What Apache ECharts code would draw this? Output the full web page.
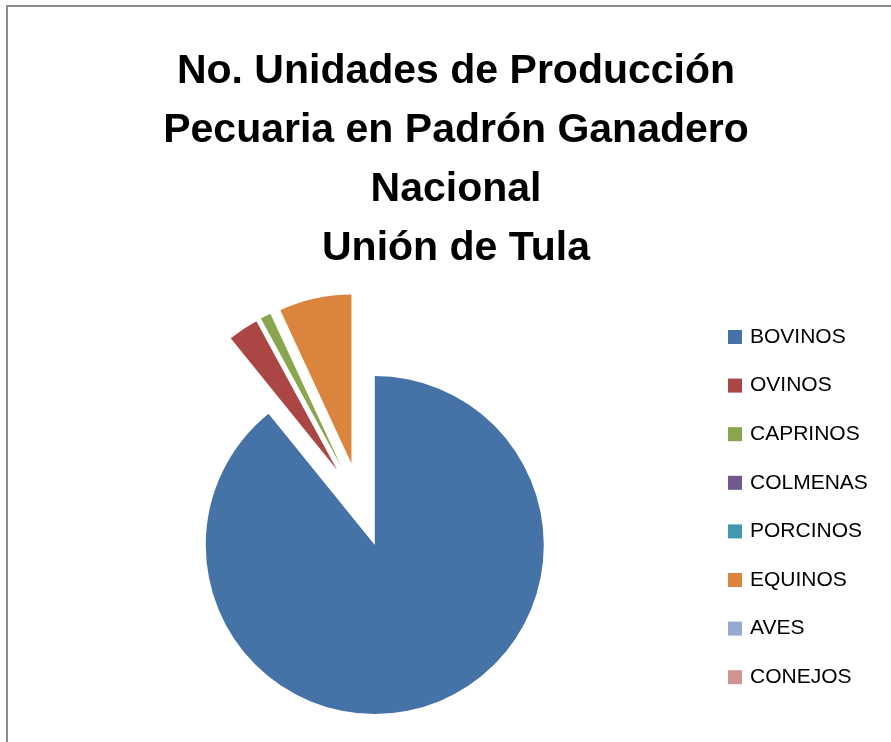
<!DOCTYPE html>
<html>
<head>
<meta charset="utf-8">
<script src="https://cdn.jsdelivr.net/npm/echarts@6/dist/echarts.min.js"></script>
<style>
  html, body { margin: 0; padding: 0; background: #ffffff; }
  #chart { width: 891px; height: 742px; }
</style>
</head>
<body>
<div id="chart"></div>
<script>
const categories = ['BOVINOS', 'OVINOS', 'CAPRINOS', 'COLMENAS', 'PORCINOS', 'EQUINOS', 'AVES', 'CONEJOS'];
const values = [890, 29, 10, 0, 0, 69, 0, 0];
const colors = ['#4572A7', '#AA4643', '#89A54E', '#71588F', '#4198AF', '#DB843D', '#93A9CF', '#D19392'];
const titleLines = ['No. Unidades de Producción', 'Pecuaria en Padrón Ganadero', 'Nacional', 'Unión de Tula'];

const chart = echarts.init(document.getElementById('chart'));
chart.setOption({
  animation: false,
  color: colors,
  graphic: [{
    type: 'polyline',
    shape: { points: [[7, 742], [7, 6], [891, 6]] },
    style: { stroke: '#8c8c8c', lineWidth: 2, fill: null },
    silent: true
  }],
  title: {
    text: titleLines.join('\n'),
    left: 451,
    textAlign: 'center',
    top: 37,
    textStyle: {
      fontFamily: 'Liberation Sans',
      fontWeight: 'bold',
      fontSize: 41,
      lineHeight: 59,
      color: '#000000'
    }
  },
  legend: {
    orient: 'vertical',
    left: 723,
    top: 321.5,
    itemWidth: 14,
    itemHeight: 14,
    itemGap: 27.6,
    icon: 'rect',
    selectedMode: false,
    data: categories,
    textStyle: {
      fontFamily: 'Liberation Sans',
      fontSize: 21,
      lineHeight: 20,
      color: '#000000',
      padding: [0, 0, 0, 3]
    }
  },
  series: [{
    type: 'pie',
    center: [360.6, 505],
    radius: [0, 169],
    startAngle: 90,
    clockwise: true,
    selectedMode: 'multiple',
    selectedOffset: 42.5,
    avoidLabelOverlap: false,
    label: { show: false },
    labelLine: { show: false },
    emphasis: { disabled: true },
    itemStyle: { borderWidth: 0 },
    data: categories.map((name, i) => ({ name: name, value: values[i], selected: true }))
  }]
});
</script>
</body>
</html>
